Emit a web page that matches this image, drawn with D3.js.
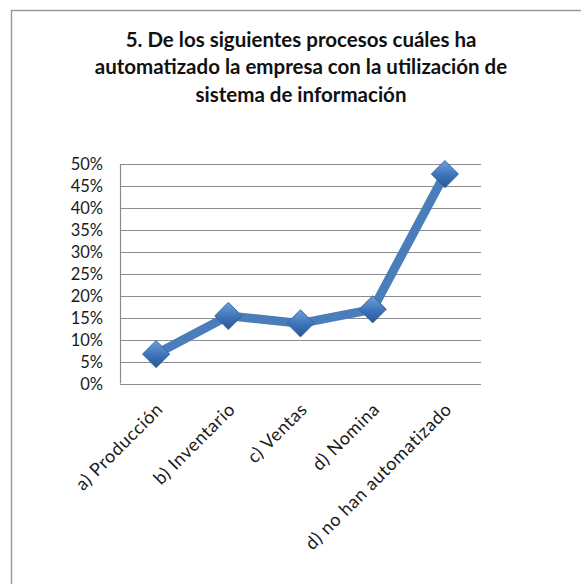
<!DOCTYPE html>
<html lang="es">
<head>
<meta charset="utf-8">
<style>
  body { margin: 0; background: #fff; }
  svg { font-family: Lato, "Open Sans", sans-serif; }
</style>
<script src="https://d3js.org/d3.v7.min.js"></script>
</head>
<body>
<svg width="581" height="584"></svg>
<script>

var categories = ["a) Producción", "b) Inventario", "c) Ventas", "d) Nomina", "d) no han automatizado"];
var values = [0.067, 0.154, 0.137, 0.169, 0.477];
var yTicks = [0, 0.05, 0.10, 0.15, 0.20, 0.25, 0.30, 0.35, 0.40, 0.45, 0.50];
var titleLines = ["5. De los siguientes procesos cuáles ha",
                  "automatizado la empresa con  la utilización de",
                  "sistema de información"];

var svg = d3.select("svg");

// outer frame (cut off right and bottom like the screenshot)
svg.append("path")
    .attr("d", "M11.5,584 V10.5 H581")
    .attr("fill", "none")
    .attr("stroke", "#9a9a9a")
    .attr("stroke-width", 1.5);

// title
svg.append("text")
    .attr("text-anchor", "middle")
    .attr("font-weight", "bold")
    .attr("font-size", 20.5)
    .attr("fill", "#111")
  .selectAll("tspan")
  .data(titleLines)
  .enter().append("tspan")
    .attr("x", 301)
    .attr("y", function(d, i) { return 47 + i * 27.3; })
    .text(function(d) { return d; });

var plotL = 120, plotR = 481, plotT = 164, plotB = 383.5;

var x = d3.scaleBand().domain(categories).range([plotL, plotR]);
var y = d3.scaleLinear().domain([0, 0.5]).range([plotB, plotT]);

// gridlines
svg.append("g")
  .selectAll("line")
  .data(yTicks.slice(1))
  .enter().append("line")
    .attr("x1", plotL).attr("x2", plotR)
    .attr("y1", function(d) { return Math.round(y(d)) + 0.5; })
    .attr("y2", function(d) { return Math.round(y(d)) + 0.5; })
    .attr("stroke", "#8c8c8c")
    .attr("stroke-width", 1.2);

// axes lines
svg.append("line")
    .attr("x1", plotL + 0.5).attr("x2", plotL + 0.5)
    .attr("y1", plotT).attr("y2", plotB)
    .attr("stroke", "#8c8c8c").attr("stroke-width", 1.2);
svg.append("line")
    .attr("x1", plotL).attr("x2", plotR)
    .attr("y1", Math.round(plotB) + 0.5).attr("y2", Math.round(plotB) + 0.5)
    .attr("stroke", "#8c8c8c").attr("stroke-width", 1.2);

// y labels
svg.append("g")
  .selectAll("text")
  .data(yTicks)
  .enter().append("text")
    .attr("x", 103)
    .attr("y", function(d) { return y(d) + 6; })
    .attr("text-anchor", "end")
    .attr("font-size", 16.5)
    .attr("fill", "#1a1a1a")
    .text(d3.format(".0%"));

// x labels
svg.append("g")
  .selectAll("text")
  .data(categories)
  .enter().append("text")
    .attr("transform", function(d) {
      return "translate(" + (x(d) + x.bandwidth() / 2 + 8) + "," + (plotB + 27) + ") rotate(-45)";
    })
    .attr("text-anchor", "end")
    .attr("font-size", 18)
    .attr("letter-spacing", 0.6)
    .attr("fill", "#1a1a1a")
    .text(function(d) { return d; });

var defs = svg.append("defs");
var grad = defs.append("linearGradient")
    .attr("id", "dia")
    .attr("x1", 0).attr("y1", 0).attr("x2", 1).attr("y2", 1);
grad.append("stop").attr("offset", "0%").attr("stop-color", "#6fa0dd");
grad.append("stop").attr("offset", "55%").attr("stop-color", "#3d72b8");
grad.append("stop").attr("offset", "100%").attr("stop-color", "#2a5690");

var line = d3.line()
    .x(function(d, i) { return x(categories[i]) + x.bandwidth() / 2; })
    .y(function(d) { return y(d); });

svg.append("path")
    .datum(values)
    .attr("d", line)
    .attr("fill", "none")
    .attr("stroke", "#4a7ebb")
    .attr("stroke-width", 9)
    .attr("stroke-linejoin", "round");

var diamond = d3.symbol().type(d3.symbolSquare).size(370);

svg.append("g")
  .selectAll("path")
  .data(values)
  .enter().append("path")
    .attr("d", diamond)
    .attr("transform", function(d, i) {
      return "translate(" + (x(categories[i]) + x.bandwidth() / 2) + "," + y(d) + ") rotate(45)";
    })
    .attr("fill", "url(#dia)")
    .attr("stroke", "#2f5f9e")
    .attr("stroke-width", 0.8);

</script>
</body>
</html>
